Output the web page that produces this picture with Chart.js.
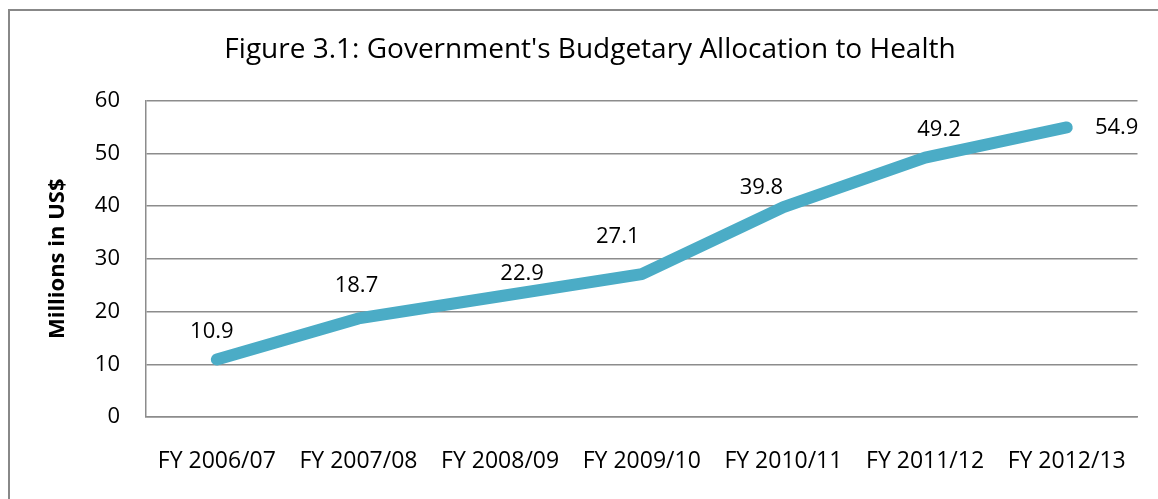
<!DOCTYPE html>
<html>
<head>
<meta charset="utf-8">
<title>Budgetary Allocation to Health</title>
<script src="https://cdn.jsdelivr.net/npm/chart.js@4"></script>
<style>
  html, body { margin: 0; padding: 0; background: #fff; overflow: hidden; }
  .frame {
    position: absolute; left: 8px; top: 9px; width: 1200px; height: 600px;
    border-left: 2px solid #888; border-top: 2px solid #888;
  }
  .wrap { position: absolute; left: 0; top: 0; width: 1158px; height: 499px; }
</style>
</head>
<body>
<div class="frame"></div>
<div class="wrap"><canvas id="healthChart"></canvas></div>
<script>
const fiscalYears = ["FY 2006/07", "FY 2007/08", "FY 2008/09", "FY 2009/10", "FY 2010/11", "FY 2011/12", "FY 2012/13"];
const allocation = [10.9, 18.7, 22.9, 27.1, 39.8, 49.2, 54.9];
const yTicks = [0, 10, 20, 30, 40, 50, 60];

// label nudges relative to each point (dx, dy in px)
const labelOffsets = [[-5, -28], [-2, -33], [22, -23], [-24, -37], [-22, -19], [14, -28], [50, 0]];

const FONT = "'Open Sans', 'DejaVu Sans', sans-serif";
const GRID = "#8c8c8c";

const valueLabels = {
  id: "valueLabels",
  afterDatasetsDraw(chart) {
    const ctx = chart.ctx;
    const meta = chart.getDatasetMeta(0);
    ctx.save();
    ctx.font = "22px " + FONT;
    ctx.fillStyle = "#000";
    ctx.textAlign = "center";
    ctx.textBaseline = "middle";
    meta.data.forEach((pt, i) => {
      const [dx, dy] = labelOffsets[i];
      ctx.fillText(allocation[i].toFixed(1), pt.x + dx, pt.y + dy);
    });
    ctx.restore();
  }
};

new Chart(document.getElementById("healthChart"), {
  type: "line",
  data: {
    labels: fiscalYears,
    datasets: [
      {
        label: "Allocation",
        data: allocation,
        borderColor: "#4bacc6",
        borderWidth: 12,
        borderCapStyle: "round",
        borderJoinStyle: "round",
        pointRadius: 0,
        tension: 0,
        fill: false
      }
    ]
  },
  options: {
    animation: false,
    responsive: true,
    maintainAspectRatio: false,
    layout: { padding: { left: 40, right: 18, top: 0, bottom: 0 } },
    scales: {
      x: {
        offset: true,
        grid: { display: false, drawTicks: false },
        border: { display: true, color: GRID, width: 1.5 },
        ticks: { color: "#000", font: { family: FONT, size: 23 }, padding: 31, maxRotation: 0, autoSkip: false },
        afterFit(scale) { scale.height = 82; }
      },
      y: {
        min: 0,
        max: 60,
        afterBuildTicks(scale) { scale.ticks = yTicks.map(v => ({ value: v })); },
        grid: { color: GRID, lineWidth: 1.5, drawTicks: false },
        border: { display: true, color: GRID, width: 1.5 },
        ticks: { color: "#000", font: { family: FONT, size: 22 }, padding: 26 },
        title: {
          display: true,
          text: "Millions in US$",
          color: "#000",
          font: { family: FONT, size: 22, weight: "bold" },
          padding: { top: 5, bottom: 0 }
        },
        afterFit(scale) { scale.width = 106; }
      }
    },
    plugins: {
      legend: { display: false },
      tooltip: { enabled: false },
      title: {
        display: true,
        text: "Figure 3.1: Government's Budgetary Allocation to Health",
        color: "#000",
        font: { family: FONT, size: 28, weight: "normal" },
        padding: { top: 33, bottom: 34 }
      }
    }
  },
  plugins: [valueLabels]
});
</script>
</body>
</html>
